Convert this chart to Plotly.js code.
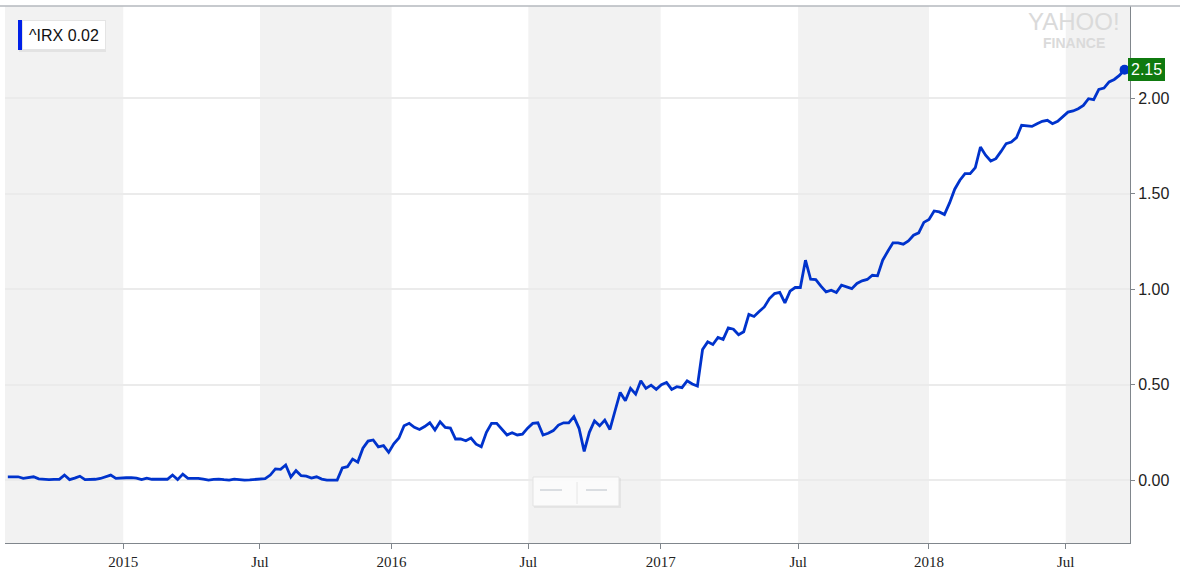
<!DOCTYPE html>
<html>
<head>
<meta charset="utf-8">
<script src="https://cdn.plot.ly/plotly-3.0.1.min.js"></script>
<style>html,body{margin:0;padding:0;background:#fff;}#chart{width:1180px;height:577px;}</style>
</head>
<body>
<div id="chart"></div>
<script>
// Weekly ^IRX (13-week T-bill yield) closes
const dates2014 = ["2014-07-28","2014-08-04","2014-08-11","2014-08-18","2014-08-25","2014-09-01","2014-09-08","2014-09-15","2014-09-22","2014-09-29","2014-10-06","2014-10-13","2014-10-20","2014-10-27","2014-11-03","2014-11-10","2014-11-17","2014-11-24","2014-12-01","2014-12-08","2014-12-15","2014-12-22","2014-12-29"];
const values2014 = [0.017,0.017,0.017,0.009,0.013,0.017,0.006,0.003,0.002,0.003,0.004,0.026,0.002,0.01,0.02,0.002,0.002,0.004,0.008,0.015,0.026,0.009,0.012];

const dates2015 = ["2015-01-05","2015-01-12","2015-01-19","2015-01-26","2015-02-02","2015-02-09","2015-02-16","2015-02-23","2015-03-02","2015-03-09","2015-03-16","2015-03-23","2015-03-30","2015-04-06","2015-04-13","2015-04-20","2015-04-27","2015-05-04","2015-05-11","2015-05-18","2015-05-25","2015-06-01","2015-06-08","2015-06-15","2015-06-22","2015-06-29","2015-07-06","2015-07-13","2015-07-20","2015-07-27","2015-08-03","2015-08-10","2015-08-17","2015-08-24","2015-08-31","2015-09-07","2015-09-14","2015-09-21","2015-09-28","2015-10-05","2015-10-12","2015-10-19","2015-10-26","2015-11-02","2015-11-09","2015-11-16","2015-11-23","2015-11-30","2015-12-07","2015-12-14","2015-12-21","2015-12-28"];
const values2015 = [0.012,0.013,0.01,0.002,0.01,0.004,0.006,0.005,0.004,0.026,0.002,0.031,0.009,0.009,0.009,0.005,0.0,0.003,0.005,0.002,0.0,0.005,0.002,0.0,0.001,0.002,0.003,0.007,0.026,0.058,0.056,0.079,0.016,0.049,0.023,0.02,0.01,0.017,0.005,0.0,0.0,0.0,0.063,0.07,0.11,0.094,0.167,0.204,0.21,0.174,0.18,0.145];

const dates2016 = ["2016-01-04","2016-01-11","2016-01-18","2016-01-25","2016-02-01","2016-02-08","2016-02-15","2016-02-22","2016-02-29","2016-03-07","2016-03-14","2016-03-21","2016-03-28","2016-04-04","2016-04-11","2016-04-18","2016-04-25","2016-05-02","2016-05-09","2016-05-16","2016-05-23","2016-05-30","2016-06-06","2016-06-13","2016-06-20","2016-06-27","2016-07-04","2016-07-11","2016-07-18","2016-07-25","2016-08-01","2016-08-08","2016-08-15","2016-08-22","2016-08-29","2016-09-05","2016-09-12","2016-09-19","2016-09-26","2016-10-03","2016-10-10","2016-10-17","2016-10-24","2016-10-31","2016-11-07","2016-11-14","2016-11-21","2016-11-28","2016-12-05","2016-12-12","2016-12-19","2016-12-26"];
const values2016 = [0.19,0.22,0.284,0.297,0.276,0.265,0.28,0.30,0.262,0.305,0.276,0.272,0.215,0.215,0.206,0.22,0.188,0.174,0.25,0.297,0.297,0.265,0.236,0.248,0.236,0.24,0.272,0.297,0.30,0.236,0.245,0.259,0.288,0.30,0.30,0.332,0.271,0.15,0.25,0.31,0.284,0.314,0.265,0.363,0.459,0.415,0.48,0.45,0.52,0.48,0.497,0.475];

const dates2017 = ["2017-01-02","2017-01-09","2017-01-16","2017-01-23","2017-01-30","2017-02-06","2017-02-13","2017-02-20","2017-02-27","2017-03-06","2017-03-13","2017-03-20","2017-03-27","2017-04-03","2017-04-10","2017-04-17","2017-04-24","2017-05-01","2017-05-08","2017-05-15","2017-05-22","2017-05-29","2017-06-05","2017-06-12","2017-06-19","2017-06-26","2017-07-03","2017-07-10","2017-07-17","2017-07-24","2017-07-31","2017-08-07","2017-08-14","2017-08-21","2017-08-28","2017-09-04","2017-09-11","2017-09-18","2017-09-25","2017-10-02","2017-10-09","2017-10-16","2017-10-23","2017-10-30","2017-11-06","2017-11-13","2017-11-20","2017-11-27","2017-12-04","2017-12-11","2017-12-18","2017-12-25"];
const values2017 = [0.50,0.511,0.475,0.489,0.484,0.52,0.503,0.492,0.684,0.724,0.71,0.747,0.737,0.797,0.79,0.761,0.777,0.868,0.857,0.883,0.907,0.951,0.977,0.983,0.928,0.99,1.009,1.009,1.152,1.052,1.05,1.016,0.986,0.995,0.983,1.021,1.012,1.003,1.03,1.044,1.051,1.073,1.07,1.152,1.199,1.243,1.243,1.236,1.253,1.283,1.295,1.35];

const dates2018 = ["2018-01-01","2018-01-08","2018-01-15","2018-01-22","2018-01-29","2018-02-05","2018-02-12","2018-02-19","2018-02-26","2018-03-05","2018-03-12","2018-03-19","2018-03-26","2018-04-02","2018-04-09","2018-04-16","2018-04-23","2018-04-30","2018-05-07","2018-05-14","2018-05-21","2018-05-28","2018-06-04","2018-06-11","2018-06-18","2018-06-25","2018-07-02","2018-07-09","2018-07-16","2018-07-23","2018-07-30","2018-08-06","2018-08-13","2018-08-20","2018-08-27","2018-09-03","2018-09-10","2018-09-17","2018-09-24"];
const values2018 = [1.365,1.41,1.405,1.391,1.452,1.524,1.571,1.606,1.606,1.637,1.745,1.702,1.672,1.684,1.722,1.763,1.771,1.794,1.859,1.855,1.853,1.867,1.88,1.885,1.867,1.88,1.906,1.928,1.934,1.946,1.963,1.998,1.993,2.047,2.054,2.086,2.099,2.12,2.15];

const tickDates = ["2015-01-01","2015-07-06","2016-01-01","2016-07-05","2017-01-01","2017-07-07","2018-01-01","2018-07-06"];
const tickLabels = ["2015","Jul","2016","Jul","2017","Jul","2018","Jul"];
const yTicks = [0, 0.5, 1, 1.5, 2];
const symbol = "^IRX";
const legendValue = "0.02";
const lastValueLabel = "2.15";

const dates = [].concat(dates2014, dates2015, dates2016, dates2017, dates2018);
const values = [].concat(values2014, values2015, values2016, values2017, values2018);
const xStart = "2014-07-24 04:00", xEnd = "2018-10-01 10:00";

// grey half-year bands (Jul–Dec)
const bandEdges = [[xStart, tickDates[0]], [tickDates[1], tickDates[2]], [tickDates[3], tickDates[4]], [tickDates[5], tickDates[6]], [tickDates[7], xEnd]];
const shapes = bandEdges.map(b => ({type:'rect', xref:'x', yref:'paper', x0:b[0], x1:b[1], y0:0, y1:1, fillcolor:'#f2f2f2', line:{width:0}, layer:'below'}));

// paper helpers
const W = 1125, H = 537, L = 5, T = 6;
const px = v => (v - L) / W;
const py = v => (T + H - v) / H;

// top border line
shapes.push({type:'line', xref:'paper', yref:'paper', x0:px(0), x1:px(1180), y0:1, y1:1, line:{color:'#b5b9be', width:1.5}});
// legend shadow + blue bar
shapes.push({type:'rect', xref:'paper', yref:'paper', x0:px(19), x1:px(106), y0:py(52), y1:py(21), fillcolor:'rgba(0,0,0,0.06)', line:{width:0}});
shapes.push({type:'rect', xref:'paper', yref:'paper', x0:px(18), x1:px(22), y0:py(50), y1:py(20), fillcolor:'#0020e8', line:{width:0}});
// range selector widget
shapes.push({type:'rect', xref:'paper', yref:'paper', x0:px(534), x1:px(621), y0:py(508), y1:py(478), fillcolor:'rgba(0,0,0,0.05)', line:{width:0}});
shapes.push({type:'rect', xref:'paper', yref:'paper', x0:px(533), x1:px(619), y0:py(506), y1:py(477), fillcolor:'rgba(255,255,255,0.85)', line:{color:'#e2e2e2', width:1}});
shapes.push({type:'line', xref:'paper', yref:'paper', x0:px(540), x1:px(562), y0:py(490), y1:py(490), line:{color:'#b9c0c8', width:1}});
shapes.push({type:'line', xref:'paper', yref:'paper', x0:px(586), x1:px(607), y0:py(490), y1:py(490), line:{color:'#b9c0c8', width:1}});
shapes.push({type:'line', xref:'paper', yref:'paper', x0:px(577), x1:px(577), y0:py(482), y1:py(504), line:{color:'#e6e6e6', width:1}});

const annotations = [
  {xref:'paper', yref:'paper', x:px(22), y:py(35), xanchor:'left', yanchor:'middle', text:symbol + ' ' + legendValue, showarrow:false,
   font:{family:'Liberation Sans, Arial, sans-serif', size:16, color:'#111'}, bgcolor:'#ffffff', bordercolor:'#e4e4e4', borderwidth:1, borderpad:3, width:76, height:22, align:'center'},
  {xref:'paper', yref:'paper', x:px(1074), y:py(22), xanchor:'center', yanchor:'middle', text:'YAHOO!', showarrow:false,
   font:{family:'Liberation Sans, Arial, sans-serif', size:24, color:'#dadada'}},
  {xref:'paper', yref:'paper', x:px(1074), y:py(43), xanchor:'center', yanchor:'middle', text:'<b>FINANCE</b>', showarrow:false,
   font:{family:'Liberation Sans, Arial, sans-serif', size:14, color:'#dadada'}},
  {xref:'paper', yref:'y', x:px(1128), y:2.15, xanchor:'left', yanchor:'middle', text:lastValueLabel, showarrow:false,
   font:{family:'Liberation Sans, Arial, sans-serif', size:16, color:'#ffffff'}, bgcolor:'#0f7a0f', bordercolor:'#0f7a0f', borderwidth:1, borderpad:2}
];

const traces = [
  {x:dates, y:values, type:'scatter', mode:'lines', line:{color:'#0033cc', width:2.8}, hoverinfo:'skip'},
  {x:[dates[dates.length-1]], y:[values[values.length-1]], type:'scatter', mode:'markers', marker:{color:'#0033cc', size:10}, hoverinfo:'skip'}
];

const layout = {
  width:1180, height:577,
  margin:{l:5, r:50, t:6, b:34},
  paper_bgcolor:'#ffffff', plot_bgcolor:'#ffffff',
  showlegend:false,
  xaxis:{type:'date', range:[xStart, xEnd], tickmode:'array', tickvals:tickDates, ticktext:tickLabels,
    showgrid:false, zeroline:false, showline:true, linecolor:'#80868c', linewidth:1,
    ticks:'outside', ticklen:5, tickcolor:'#80868c',
    tickfont:{family:'Liberation Serif, Times New Roman, serif', size:15, color:'#222'}},
  yaxis:{side:'right', range:[-0.330, 2.484], tickmode:'array', tickvals:yTicks, tickformat:'.2f',
    showgrid:true, gridcolor:'#ebebeb', gridwidth:2, zeroline:false,
    showline:true, linecolor:'#80868c', linewidth:1, ticks:'outside', ticklen:4, tickcolor:'#80868c',
    tickfont:{family:'Liberation Sans, Arial, sans-serif', size:16, color:'#222'}},
  shapes:shapes,
  annotations:annotations
};

Plotly.newPlot('chart', traces, layout, {displayModeBar:false, staticPlot:true});
</script>
</body>
</html>
